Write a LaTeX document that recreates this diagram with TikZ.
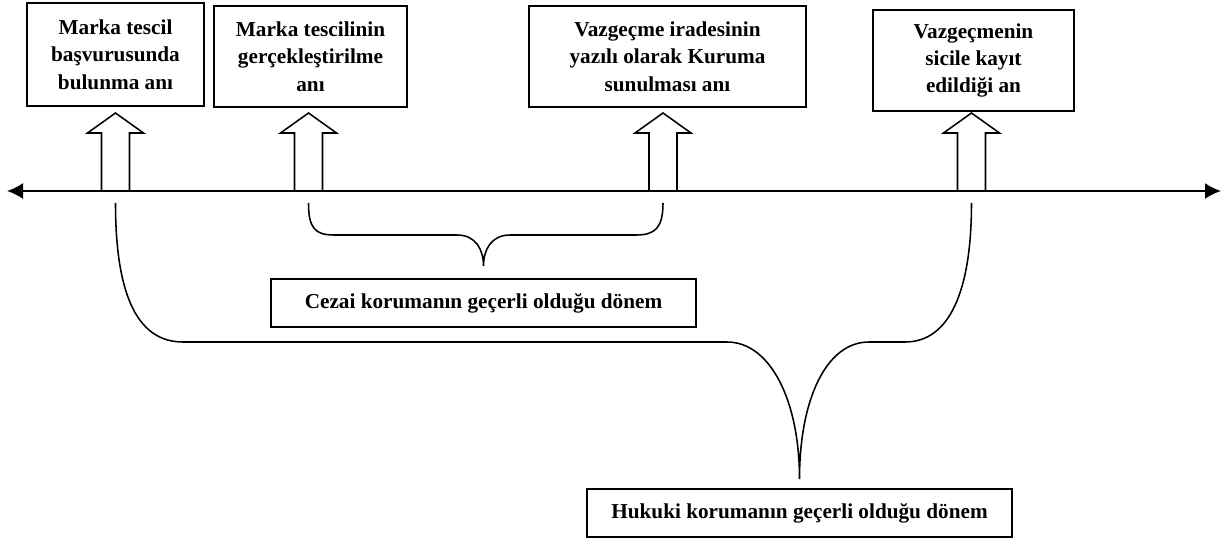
\documentclass[tikz,border=0pt]{standalone}
\usepackage{fontspec}
\setmainfont{Liberation Serif}
\usetikzlibrary{arrows.meta,calc}

\def\axisy{191}

\begin{document}
\begin{tikzpicture}[x=0.025cm,y=-0.025cm,line width=1.4pt,
    font=\fontsize{15.1}{19.4}\selectfont\bfseries]
  \tikzstyle{moment}=[draw,align=center,inner sep=0pt,minimum height=2.525cm]
  \tikzstyle{period}=[draw,align=center,inner sep=0pt,minimum width=10.625cm,minimum height=1.2cm]
  \tikzstyle{blockarrow}=[draw,fill=white,line width=1.1pt]
  \tikzstyle{brace}=[line width=1.1pt]

  \useasboundingbox (0,0) rectangle (1230,539);

  % Draw the boxes for the four moments
  \node[moment,minimum width=4.425cm,minimum height=2.575cm] (M-1) at (115.5,54.5)
      {Marka tescil\\başvurusunda\\bulunma anı};
  \node[moment,minimum width=4.825cm] (M-2) at (310.5,56.5)
      {Marka tescilinin\\gerçekleştirilme\\anı};
  \node[moment,minimum width=6.925cm] (M-3) at (667.5,56.5)
      {Vazgeçme iradesinin\\yazılı olarak Kuruma\\sunulması anı};
  \node[moment,minimum width=5.025cm] (M-4) at (973.5,60.5)
      {Vazgeçmenin\\sicile kayıt\\edildiği an};

  % Draw the boxes for the two periods
  \node[period] (P-1) at (483.5,303) {Cezai korumanın geçerli olduğu dönem};
  \node[period] (P-2) at (799.5,513) {Hukuki korumanın geçerli olduğu dönem};

  % Draw the time axis
  \coordinate (L) at (7,\axisy);
  \coordinate (R) at (1221,\axisy);
  \draw[{Latex[length=0.4cm,width=0.4cm]}-{Latex[length=0.4cm,width=0.4cm]}] (L) -- (R);

  % Draw the block arrows from the axis up to the moments
  \foreach \name / \x in {1/115.5,2/308.5,3/663,4/971.5}
  {
      \coordinate (T-\name) at (\x,\axisy);
      \coordinate (S-\name) at ($(T-\name)+(0,12)$);
      \draw[blockarrow] (T-\name) ++(-14,0) -- ++(0,-58) -- ++(-14,0) -- ++(28,-20)
          -- ++(28,20) -- ++(-14,0) -- ++(0,58) -- cycle;
  }

  % Tips of the braces above the period boxes
  \coordinate (C-tip) at ($(P-1.north)+(0,-12)$);
  \coordinate (H-tip) at ($(P-2.north)+(0,-9)$);

  % Brace for the penal protection
  \draw[brace] (S-2) .. controls (308.5,228) and (315,235) .. (334,235) -- (457,235)
      .. controls (476,235) and (483.5,250) .. (C-tip)
      .. controls (483.5,250) and (491,235) .. (510,235) -- (636,235)
      .. controls (655,235) and (663,228) .. (S-3);

  % Brace for the legal protection
  \draw[brace] (S-1) .. controls (115.5,290) and (135,342) .. (183,342) -- (727,342)
      .. controls (770,342) and (799.5,400) .. (H-tip)
      .. controls (799.5,400) and (826,342) .. (869,342) -- (905,342)
      .. controls (950,342) and (971.5,290) .. (S-4);
\end{tikzpicture}
\end{document}
